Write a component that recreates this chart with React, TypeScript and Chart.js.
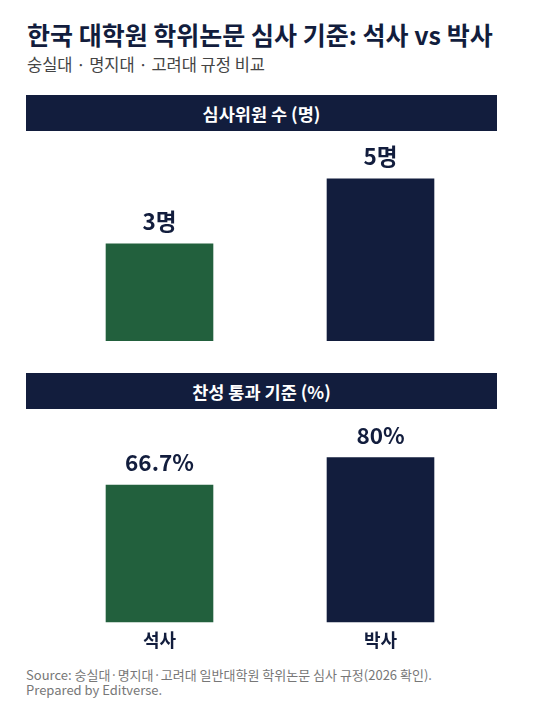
import React, { useEffect, useRef } from "react";
import { Chart, registerables } from "chart.js";

Chart.register(...registerables);

const categories = ["석사", "박사"];
const memberCounts = [3, 5];
const memberLabels = ["3명", "5명"];
const approvalRates = [66.7, 80];
const approvalLabels = ["66.7%", "80%"];
const barColors = ["#22603d", "#121d3d"];

const FONT = "'Noto Sans CJK KR', 'Noto Sans', sans-serif";
const NAVY = "#121d3d";

const valueLabelPlugin = {
  id: "valueLabels",
  afterDatasetsDraw(chart: any) {
    const labels: string[] = chart.options.plugins.valueLabels.labels;
    const ctx = chart.ctx;
    const meta = chart.getDatasetMeta(0);
    ctx.save();
    ctx.font = `bold 22.5px ${FONT}`;
    ctx.fillStyle = NAVY;
    ctx.textAlign = "center";
    ctx.textBaseline = "middle";
    meta.data.forEach((bar: any, i: number) => {
      ctx.fillText(labels[i], bar.x, bar.y - 22);
    });
    ctx.restore();
  },
};

function Panel({
  values,
  labels,
  showX,
  height,
}: {
  values: number[];
  labels: string[];
  showX: boolean;
  height: number;
}) {
  const ref = useRef<HTMLCanvasElement>(null);
  useEffect(() => {
    if (!ref.current) return;
    const max = Math.max(...values);
    const chart = new Chart(ref.current, {
      type: "bar",
      data: {
        labels: categories,
        datasets: [
          {
            data: values,
            backgroundColor: barColors,
            borderWidth: 0,
            barPercentage: 0.487,
            categoryPercentage: 1,
          },
        ],
      },
      options: {
        animation: false,
        responsive: false,
        maintainAspectRatio: false,
        layout: {
          padding: { top: 7, bottom: showX ? 0 : 5, left: 23, right: 6 },
        },
        plugins: {
          legend: { display: false },
          tooltip: { enabled: false },
          valueLabels: { labels },
        } as any,
        scales: {
          x: {
            display: showX,
            grid: { display: false, drawTicks: false },
            border: { display: false },
            ticks: {
              padding: 7,
              color: NAVY,
              font: { family: FONT, size: 18, weight: "bold" },
            },
          },
          y: {
            display: false,
            min: 0,
            max: max * 1.25,
          },
        },
      },
      plugins: [valueLabelPlugin],
    });
    return () => chart.destroy();
  }, []);
  return <canvas ref={ref} width={471} height={height} style={{ display: "block", width: 471, height }} />;
}

function Header({ text, top }: { text: string; top: number }) {
  return (
    <div
      style={{
        position: "absolute",
        left: 26,
        top,
        width: 471,
        height: 36,
        background: NAVY,
        color: "#fff",
        fontWeight: 700,
        fontSize: 17.5,
        display: "flex",
        alignItems: "center",
        justifyContent: "center",
      }}
    >
      {text}
    </div>
  );
}

export default function App() {
  useEffect(() => {
    document.body.style.margin = "0";
  }, []);
  return (
    <div
      style={{
        position: "relative",
        width: 540,
        height: 713,
        background: "#fff",
        fontFamily: FONT,
        overflow: "hidden",
      }}
    >
      <div
        style={{
          position: "absolute",
          left: 27,
          top: 18,
          fontSize: 25,
          fontWeight: 700,
          color: NAVY,
          lineHeight: "32px",
          whiteSpace: "nowrap",
        }}
      >
        한국 대학원 학위논문 심사 기준: 석사 vs 박사
      </div>
      <div
        style={{
          position: "absolute",
          left: 27,
          top: 53,
          fontSize: 16.5,
          color: "#444",
          lineHeight: "22px",
          whiteSpace: "nowrap",
        }}
      >
        숭실대 · 명지대 · 고려대 규정 비교
      </div>
      <Header text="심사위원 수 (명)" top={95} />
      <div style={{ position: "absolute", left: 26, top: 131 }}>
        <Panel values={memberCounts} labels={memberLabels} showX={false} height={215} />
      </div>
      <Header text="찬성 통과 기준 (%)" top={373} />
      <div style={{ position: "absolute", left: 26, top: 409 }}>
        <Panel values={approvalRates} labels={approvalLabels} showX={true} height={249} />
      </div>
      <div
        style={{
          position: "absolute",
          left: 26,
          top: 667,
          fontSize: 13,
          color: "#777",
          lineHeight: "15px",
          whiteSpace: "nowrap",
        }}
      >
        Source: 숭실대·명지대·고려대 일반대학원 학위논문 심사 규정(2026 확인).
        <br />
        Prepared by Editverse.
      </div>
    </div>
  );
}
